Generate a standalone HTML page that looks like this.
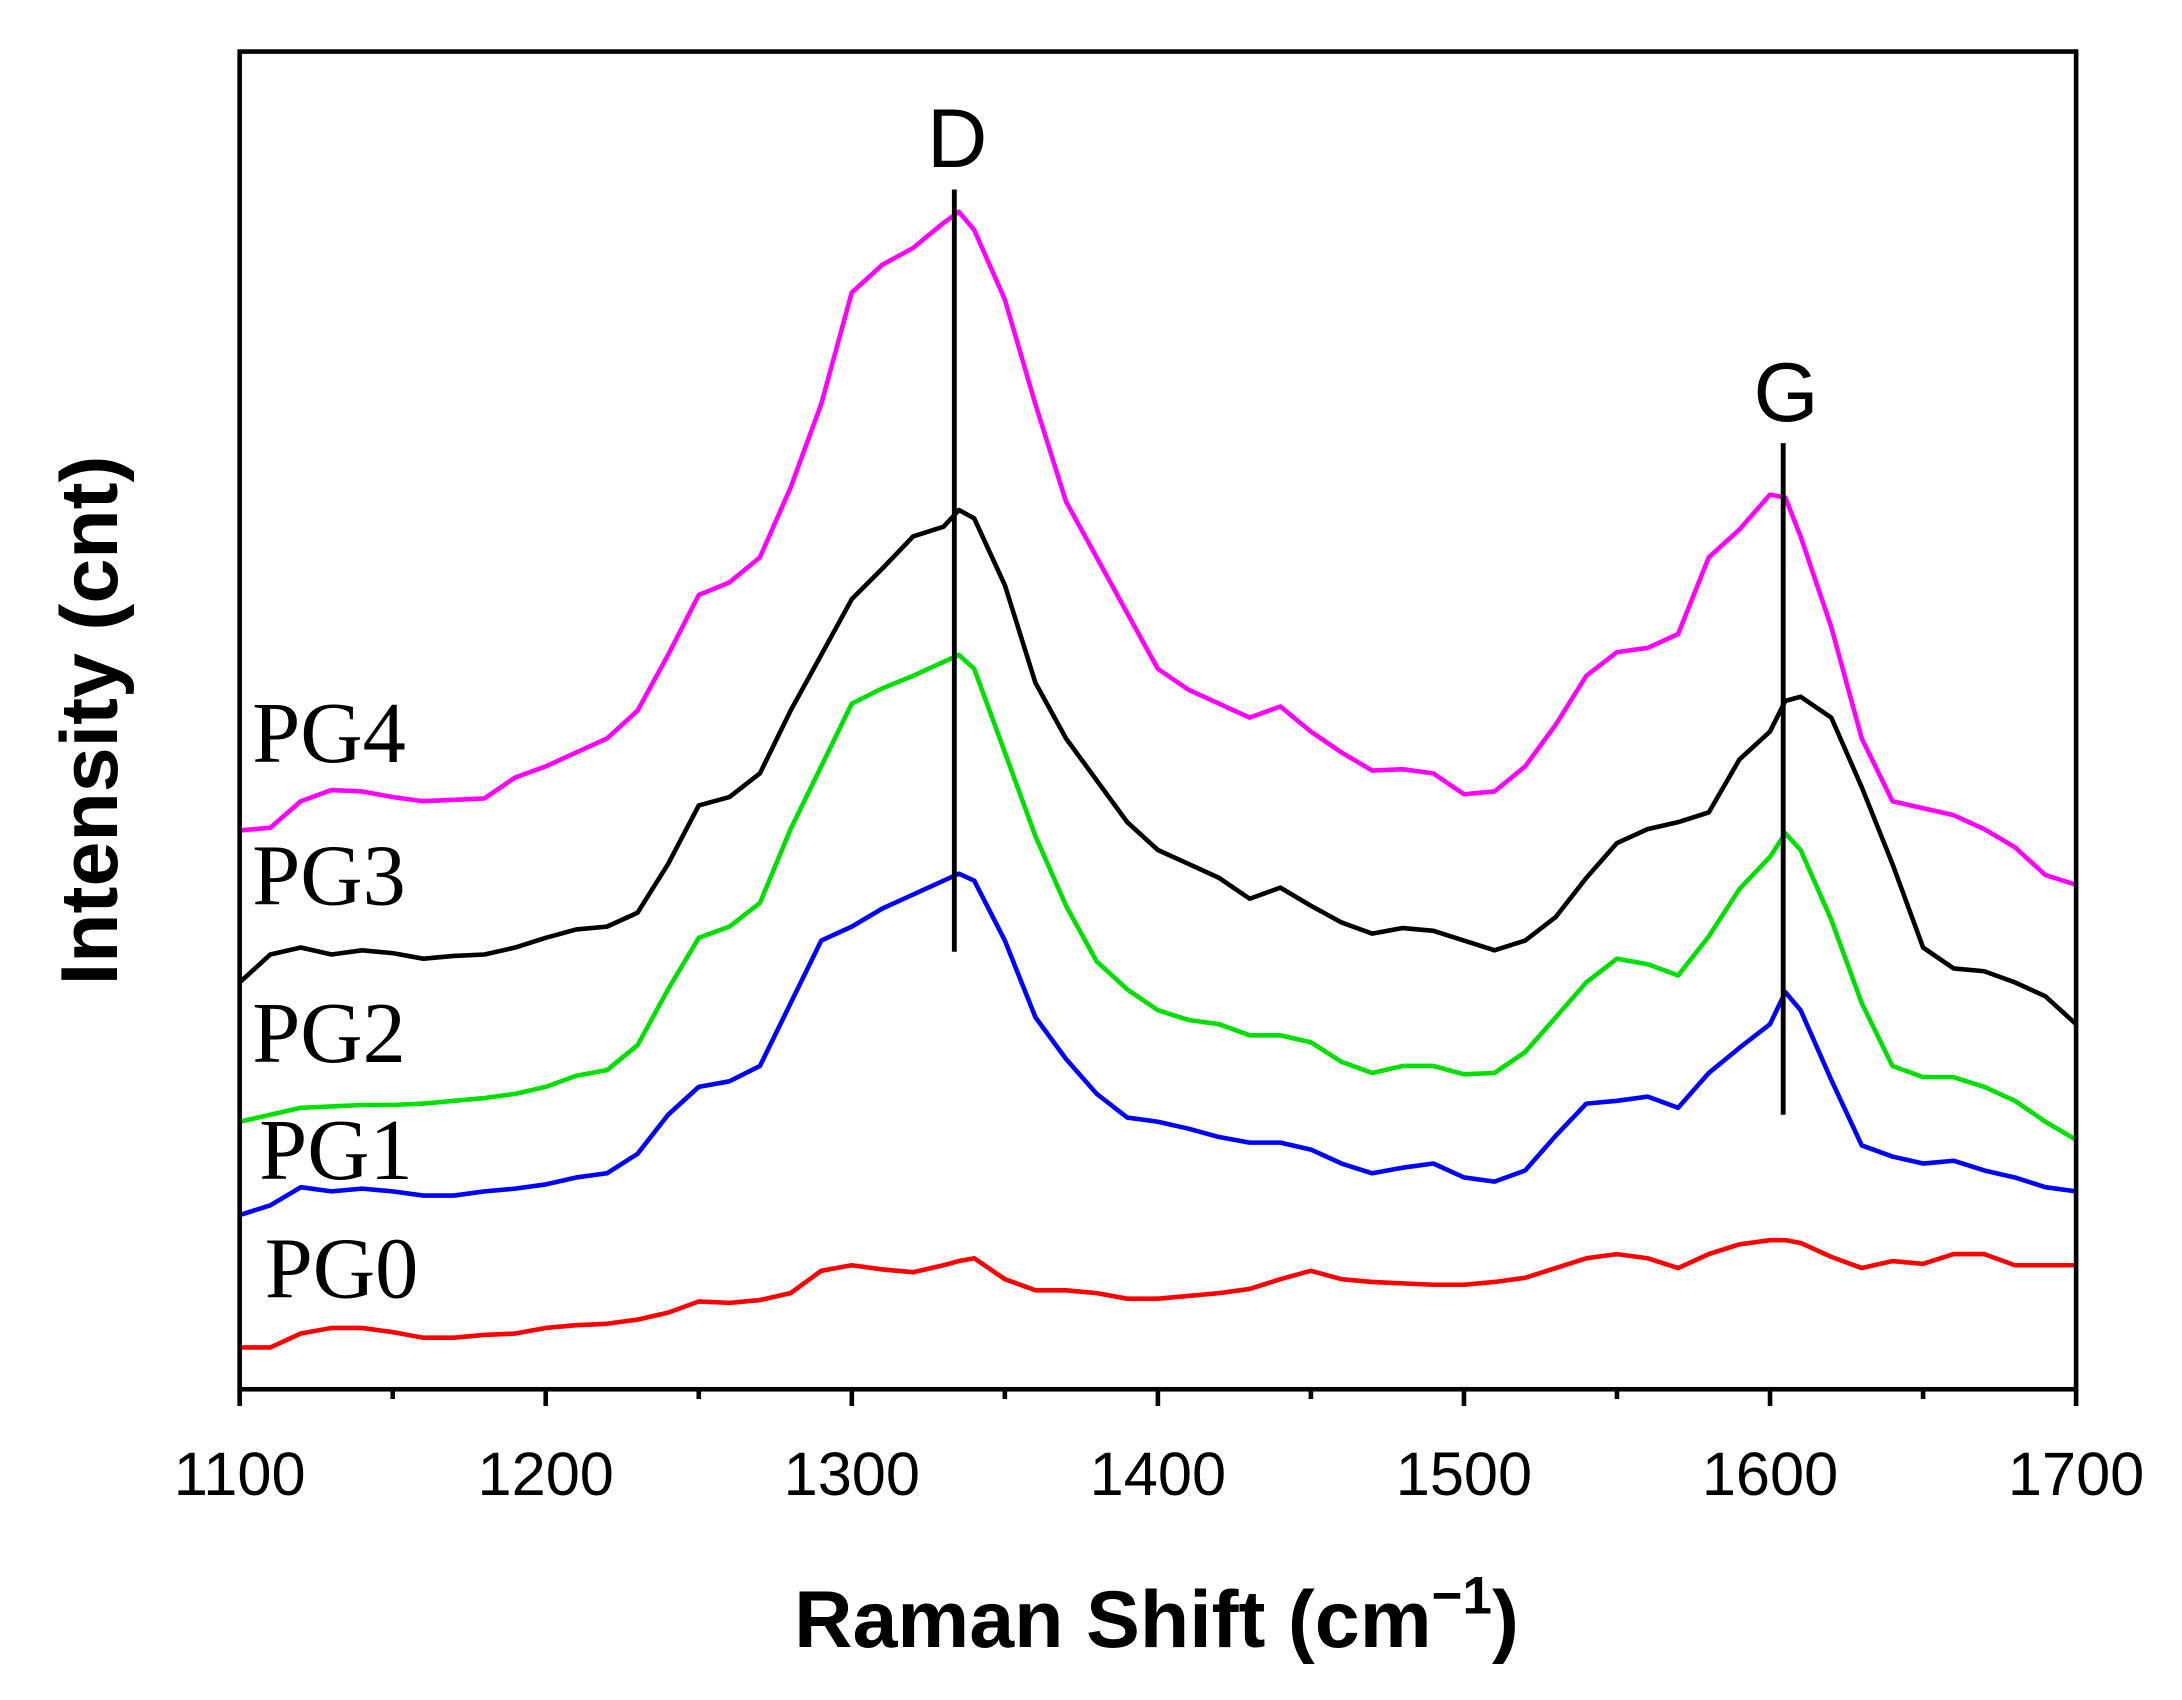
<!DOCTYPE html>
<html><head><meta charset="utf-8"><style>
html,body{margin:0;padding:0;background:#fff;}
svg{display:block;}
</style></head><body>
<svg id="chart" width="2182" height="1700" viewBox="0 0 1566 1220" preserveAspectRatio="none" xmlns="http://www.w3.org/2000/svg">
<rect x="0" y="0" width="1566" height="1220" fill="#fff"/>
<g id="plot"></g>
</svg>
<script>
const shifts=[1100,1110,1120,1130,1140,1150,1160,1170,1180,1190,1200,1210,1220,1230,1240,1250,1260,1270,1280,1290,1300,1310,1320,1330,1335,1340,1350,1360,1370,1380,1390,1400,1410,1420,1430,1440,1450,1460,1470,1480,1490,1500,1510,1520,1530,1540,1550,1560,1570,1580,1590,1600,1605,1610,1620,1630,1640,1650,1660,1670,1680,1690,1700];
const pg4=[404,406,425,433,432,428,425,426,427,442,450,460,470,490,530,573,582,600,650,710,790,810,822,840,848,835,785,710,640,600,560,520,505,495,485,493,475,460,447,448,445,430,432,450,480,515,532,535,545,600,620,645,643,615,550,470,425,420,415,405,392,372,365];
const pg3=[295,315,320,315,318,316,312,314,315,320,327,333,335,345,380,422,428,445,490,530,570,592,615,622,634,628,580,510,470,440,410,390,380,370,355,363,350,338,330,334,332,325,318,325,342,370,395,405,410,417,455,475,497,500,485,435,380,320,305,303,295,285,265,262];
const pg2=[195,200,205,206,207,207,208,210,212,215,220,228,232,250,290,327,335,352,405,450,495,506,515,525,530,520,460,400,350,310,290,275,268,265,257,257,252,238,230,235,235,229,230,245,270,295,312,308,300,328,362,385,402,390,340,280,235,227,227,220,210,195,182];
const pg1=[128,135,148,145,147,145,142,142,145,147,150,155,158,172,200,220,224,235,280,325,335,348,358,368,373,368,325,270,240,215,198,195,190,184,180,180,175,165,158,162,165,155,152,160,185,208,210,213,205,230,248,265,288,275,225,178,170,165,167,160,155,148,145];
const pg0=[33,33,43,47,47,44,40,40,42,43,47,49,50,53,58,66,65,67,72,88,92,89,87,92,95,97,82,74,74,72,68,68,70,72,75,82,88,82,80,79,78,78,80,83,90,97,100,97,90,100,107,110,110,108,98,90,95,93,100,100,92,92,92];
const seriesNames=["PG0","PG1","PG2","PG3","PG4"];
const seriesColors=["#ff0000","#0000ff","#00e000","#000000","#ff00ff"];
const xTicks=[1100,1200,1300,1400,1500,1600,1700];
const xMinor=[1150,1250,1350,1450,1550,1650];
const peakNames=["D","G"];
const peakPos=[1333.5,1604.3];
const peakTop=[864,682];
const peakBottom=[317,200];

const L=172,R=1490,T=37,B=997;
const xs=v=>L+(v-1100)/(600)*(R-L);
const ys=v=>B-(v-3)/(960)*(B-T);
const NS="http://www.w3.org/2000/svg";
const g=document.getElementById('plot');
function mk(tag,attrs,parent){const e=document.createElementNS(NS,tag);for(const k in attrs)e.setAttribute(k,attrs[k]);(parent||g).appendChild(e);return e;}

const allSeries=[pg0,pg1,pg2,pg3,pg4];
allSeries.forEach((s,i)=>{
  const p=mk('polyline',{points:s.map((v,j)=>xs(shifts[j]).toFixed(1)+','+ys(v).toFixed(1)).join(' '),fill:'none',stroke:seriesColors[i],'stroke-width':3.3,'stroke-linejoin':'round'});
  
  
});
const labelPos=[[190,931],[186,846],[181,762],[181,649],[181,547]];
seriesNames.forEach((n,i)=>{
  const t=mk('text',{x:labelPos[i][0],y:labelPos[i][1],'font-family':'Liberation Serif, serif','font-size':62,fill:'#000'});
  t.textContent=n;
  
  
});
peakNames.forEach((n,i)=>{
  const x=xs(peakPos[i]);
  const l=mk('line',{x1:x,x2:x,y1:ys(peakTop[i]),y2:ys(peakBottom[i]),stroke:'#000','stroke-width':3.5});
  
  
  const t=mk('text',{x:x+2,y:ys(peakTop[i])-16,'text-anchor':'middle','font-family':'Liberation Sans, sans-serif','font-size':60,fill:'#000'});
  t.textContent=n;
  
  
});
const frame=mk('rect',{x:L,y:T,width:R-L,height:B-T,fill:'none',stroke:'#000','stroke-width':3.3});


xTicks.forEach(v=>{
  const tk=mk('line',{x1:xs(v),x2:xs(v),y1:B,y2:B+12,stroke:'#000','stroke-width':3.3});
  
  
  const t=mk('text',{x:xs(v),y:1073,'text-anchor':'middle','font-family':'Liberation Sans, sans-serif','font-size':44,fill:'#000'});
  t.textContent=v;
  
  
});
xMinor.forEach(v=>{
  const tk=mk('line',{x1:xs(v),x2:xs(v),y1:B,y2:B+7,stroke:'#000','stroke-width':3.3});
  
  
});
const xt=mk('text',{x:830,y:1182,'text-anchor':'middle','font-family':'Liberation Sans, sans-serif','font-size':58,'font-weight':'bold',fill:'#000'});
xt.innerHTML='Raman Shift (cm<tspan dy="-24" font-size="38">−1</tspan><tspan dy="24">)</tspan>';


const yt=mk('text',{x:0,y:0,transform:'translate(84,517) rotate(-90)','text-anchor':'middle','font-family':'Liberation Sans, sans-serif','font-size':58,'font-weight':'bold',fill:'#000'});
yt.textContent='Intensity (cnt)';


</script>
</body></html>
